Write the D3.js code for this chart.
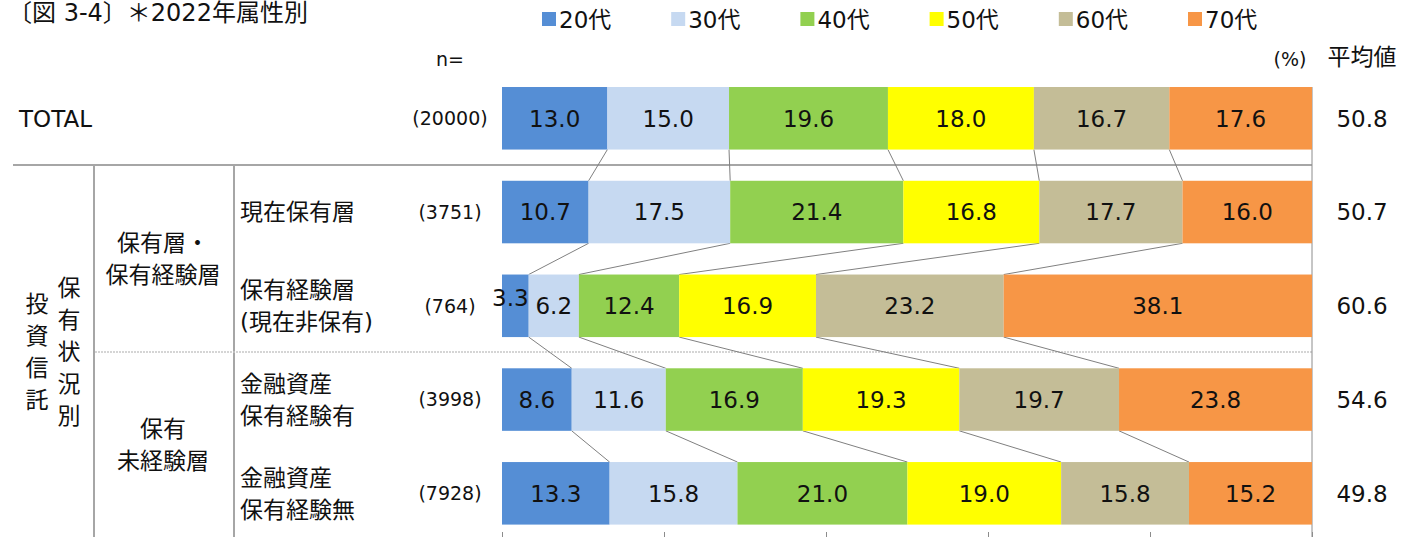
<!DOCTYPE html>
<html>
<head>
<meta charset="utf-8">
<script src="https://cdn.jsdelivr.net/npm/d3@7"></script>
<style>
  body { margin: 0; background: #fff; }
  text { font-family: "DejaVu Sans", "Noto Sans CJK JP", sans-serif; fill: #111; }
</style>
</head>
<body>
<script>
// age groups and their colours
const ageGroups = ["20代", "30代", "40代", "50代", "60代", "70代"]
const ageColors = ["#558ed5", "#c6d9f1", "#92d050", "#ffff00", "#c4bd97", "#f79646"]

// rows (top to bottom)
const rowKeys = ["TOTAL", "現在保有層", "保有経験層", "金融資産有", "金融資産無"]
const rowLabels = [["TOTAL"], ["現在保有層"], ["保有経験層", "(現在非保有)"], ["金融資産", "保有経験有"], ["金融資産", "保有経験無"]]
const sampleSizes = ["(20000)", "(3751)", "(764)", "(3998)", "(7928)"]

// share of each age group per row (%)
const v20s = [13.0, 10.7, 3.3, 8.6, 13.3]
const v30s = [15.0, 17.5, 6.2, 11.6, 15.8]
const v40s = [19.6, 21.4, 12.4, 16.9, 21.0]
const v50s = [18.0, 16.8, 16.9, 19.3, 19.0]
const v60s = [16.7, 17.7, 23.2, 19.7, 15.8]
const v70s = [17.6, 16.0, 38.1, 23.8, 15.2]
const averages = ["50.8", "50.7", "60.6", "54.6", "49.8"]

const W = 1408, H = 537
const FS = "23px"

const svg = d3.select("body").append("svg")
    .attr("width", W)
    .attr("height", H)

// table for the stack
const series = [v20s, v30s, v40s, v50s, v60s, v70s]
const table = rowKeys.map(function(k, i) {
    const o = { key: k }
    ageGroups.forEach(function(a, j) { o[a] = series[j][i] })
    return o
})

const stacked = d3.stack()
    .keys(ageGroups)
    .offset(d3.stackOffsetExpand)(table)

const x = d3.scaleLinear().domain([0, 1]).range([502, 1312])
const y = d3.scaleBand()
    .domain(rowKeys)
    .range([71.4, 540.2])
    .paddingInner(0.333)
    .paddingOuter(0.1665)
const color = d3.scaleOrdinal().domain(ageGroups).range(ageColors)
const rowMid = function(k) { return y(k) + y.bandwidth() / 2 }

// title
svg.append("text")
    .attr("x", 8).attr("y", 21)
    .style("font-size", "24px")
    .text("〔図 3-4〕＊2022年属性別")

// legend
const lx = d3.scalePoint().domain(ageGroups).range([542, 1188])
const leg = svg.selectAll(".leg")
    .data(ageGroups)
    .enter()
    .append("g")
    .attr("transform", function(d) { return "translate(" + lx(d) + ",0)" })
leg.append("rect")
    .attr("x", 0).attr("y", 12)
    .attr("width", 14).attr("height", 14)
    .attr("fill", function(d) { return color(d) })
leg.append("text")
    .attr("x", 17).attr("y", 20).attr("dy", "0.36em")
    .style("font-size", FS)
    .text(function(d) { return d })

// header texts
svg.append("text").attr("x", 450).attr("y", 59).attr("dy", "0.36em")
    .attr("text-anchor", "middle").style("font-size", "19px").text("n=")
svg.append("text").attr("x", 1290).attr("y", 59).attr("dy", "0.36em")
    .attr("text-anchor", "middle").style("font-size", "19px").text("(%)")
svg.append("text").attr("x", 1362).attr("y", 57).attr("dy", "0.36em")
    .attr("text-anchor", "middle").style("font-size", FS).text("平均値")

// grid / frame lines
const gridColor = "#a6a6a6"
svg.append("line")
    .attr("x1", 13).attr("x2", x(1))
    .attr("y1", 165).attr("y2", 165)
    .attr("stroke", gridColor).attr("stroke-width", 2)
svg.selectAll(".vline")
    .data([94, 234])
    .enter()
    .append("line")
    .attr("x1", function(d) { return d }).attr("x2", function(d) { return d })
    .attr("y1", 165).attr("y2", H)
    .attr("stroke", gridColor).attr("stroke-width", 2)
svg.append("line")
    .attr("x1", 95).attr("x2", x(1))
    .attr("y1", 352).attr("y2", 352)
    .attr("stroke", "#c8c8c8").attr("stroke-width", 1.5)
    .attr("stroke-dasharray", "2,1")

// right value axis line
svg.append("line")
    .attr("x1", x(1)).attr("x2", x(1))
    .attr("y1", y(rowKeys[0])).attr("y2", H)
    .attr("stroke", "#8c8c8c").attr("stroke-width", 1)

// bottom ticks
const axis = d3.axisTop(x)
    .tickValues([0, 0.2, 0.4, 0.6, 0.8, 1])
    .tickSize(9)
    .tickFormat("")
const ax = svg.append("g").attr("transform", "translate(0,541)").call(axis)
ax.select(".domain").attr("stroke", "#8c8c8c")
ax.selectAll(".tick line").attr("stroke", "#8c8c8c")

// connector lines between consecutive bars
const conn = []
for (let s = 0; s < stacked.length - 1; s++) {
    for (let r = 0; r < rowKeys.length - 1; r++) {
        conn.push({
            x1: x(stacked[s][r][1]), y1: y(rowKeys[r]) + y.bandwidth(),
            x2: x(stacked[s][r + 1][1]), y2: y(rowKeys[r + 1])
        })
    }
}
svg.selectAll(".conn")
    .data(conn)
    .enter()
    .append("line")
    .attr("x1", function(d) { return d.x1 }).attr("y1", function(d) { return d.y1 })
    .attr("x2", function(d) { return d.x2 }).attr("y2", function(d) { return d.y2 })
    .attr("stroke", "#808080").attr("stroke-width", 1)

// bars
const layer = svg.selectAll(".layer")
    .data(stacked)
    .enter()
    .append("g")
    .attr("fill", function(d) { return color(d.key) })

layer.selectAll("rect")
    .data(function(d) { return d })
    .enter()
    .append("rect")
    .attr("x", function(d) { return x(d[0]) })
    .attr("width", function(d) { return x(d[1]) - x(d[0]) })
    .attr("y", function(d) { return y(d.data.key) })
    .attr("height", y.bandwidth())

layer.selectAll("text")
    .data(function(d) { return d.map(function(p) { return { p: p, key: d.key } }) })
    .enter()
    .append("text")
    .attr("x", function(d) {
        const v = d.p.data[d.key]
        return (x(d.p[0]) + x(d.p[1])) / 2 - (v < 5 ? 5 : 0)
    })
    .attr("y", function(d) {
        const v = d.p.data[d.key]
        return rowMid(d.p.data.key) - (v < 5 ? 8 : 0)
    })
    .attr("dy", "0.36em")
    .attr("text-anchor", "middle")
    .style("font-size", FS)
    .text(function(d) { return d3.format(".1f")(d.p.data[d.key]) })

// row labels
rowKeys.forEach(function(k, i) {
    const lines = rowLabels[i]
    const mid = rowMid(k)
    lines.forEach(function(t, j) {
        svg.append("text")
            .attr("x", i == 0 ? 19 : 240)
            .attr("y", mid + (j - (lines.length - 1) / 2) * 32)
            .attr("dy", "0.36em")
            .style("font-size", FS)
            .text(t)
    })
    svg.append("text")
        .attr("x", 450).attr("y", mid).attr("dy", "0.36em")
        .attr("text-anchor", "middle")
        .style("font-size", "19px")
        .text(sampleSizes[i])
    svg.append("text")
        .attr("x", 1362).attr("y", mid).attr("dy", "0.36em")
        .attr("text-anchor", "middle")
        .style("font-size", FS)
        .text(averages[i])
})

// group labels
const groups = [
    { lines: ["保有層・", "保有経験層"], y: 259 },
    { lines: ["保有", "未経験層"], y: 445 }
]
groups.forEach(function(g) {
    g.lines.forEach(function(t, j) {
        svg.append("text")
            .attr("x", 163)
            .attr("y", g.y + (j - 0.5) * 32)
            .attr("dy", "0.36em")
            .attr("text-anchor", "middle")
            .style("font-size", FS)
            .text(t)
    })
})

// vertical headings
const vert = [
    { text: "投資信託", x: 37, y0: 304 },
    { text: "保有状況別", x: 69, y0: 288 }
]
vert.forEach(function(v) {
    Array.from(v.text).forEach(function(c, j) {
        svg.append("text")
            .attr("x", v.x)
            .attr("y", v.y0 + j * 32)
            .attr("dy", "0.36em")
            .attr("text-anchor", "middle")
            .style("font-size", FS)
            .text(c)
    })
})
</script>
</body>
</html>
